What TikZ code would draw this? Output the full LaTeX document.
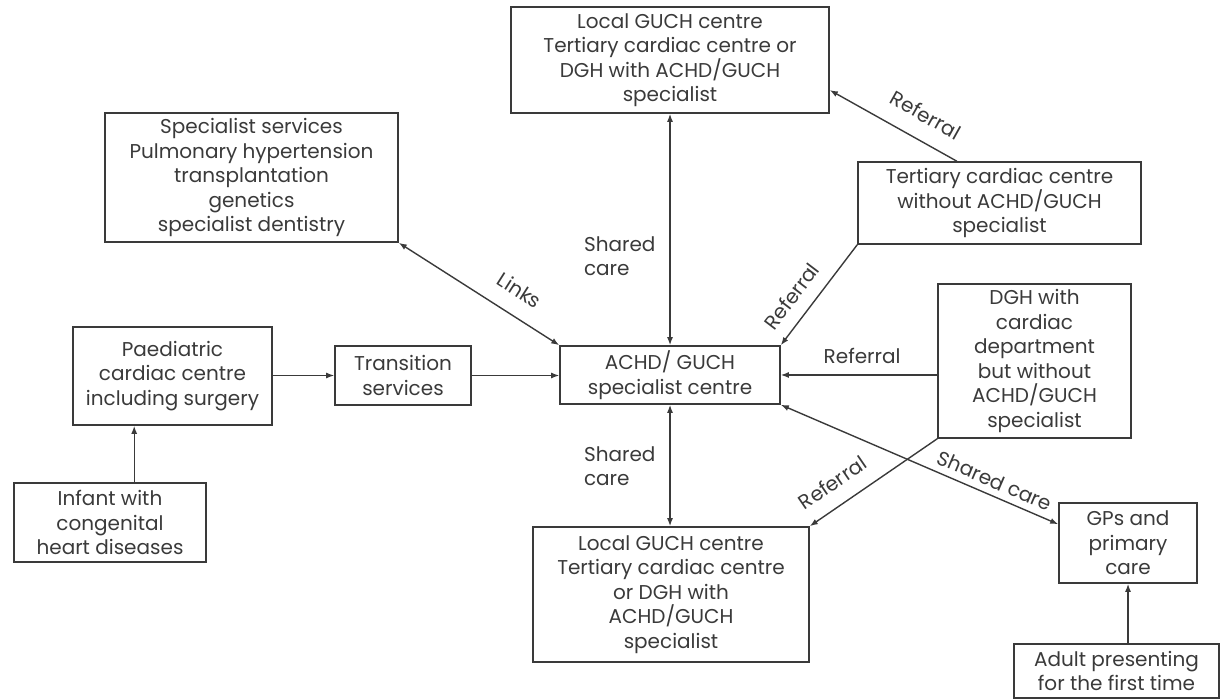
\documentclass[tikz,border=0pt]{standalone}
\usepackage{fontspec}
\setmainfont{Poppins}
\usetikzlibrary{arrows.meta,calc}
\definecolor{guchgrey}{HTML}{3A3A3A}

\begin{document}
\begin{tikzpicture}[x=0.5pt,y=-0.5pt,color=guchgrey,
	font=\fontsize{10}{12.25}\selectfont,
	box/.style={draw=guchgrey,line width=0.8pt,align=center,inner sep=1pt},
	tip/.style={line width=0.7pt,-{Latex[length=4pt,width=3pt]}},
	pit/.style={line width=0.7pt,{Latex[length=4pt,width=3pt]}-},
	tips/.style={line width=0.7pt,{Latex[length=4pt,width=3pt]}-{Latex[length=4pt,width=3pt]}}]
			\useasboundingbox (0,0) rectangle (1220,699);
			\node[box,minimum width=159pt,minimum height=53pt] (toplocal) at (670,60) {Local GUCH centre\\Tertiary cardiac centre or\\DGH with ACHD/GUCH\\specialist};
			\node[box,minimum width=146.5pt,minimum height=64.5pt] (spec) at (251.5,177.5) {Specialist services\\Pulmonary hypertension\\transplantation\\genetics\\specialist dentistry};
			\node[box,minimum width=141.5pt,minimum height=41pt] (tertnone) at (999.5,203) {Tertiary cardiac centre\\without ACHD/GUCH\\specialist};
			\node[box,minimum width=96.5pt,minimum height=77pt] (dghnone) at (1034.5,361) {DGH with\\cardiac\\department\\but without\\ACHD/GUCH\\specialist};
			\node[box,minimum width=110pt,minimum height=29pt] (achd) at (670,375) {ACHD/ GUCH\\specialist centre};
			\node[box,minimum width=68pt,minimum height=29.5pt] (trans) at (403,375.5) {Transition\\services};
			\node[box,minimum width=99.5pt,minimum height=49pt] (paed) at (172.5,376) {Paediatric\\cardiac centre\\including surgery};
			\node[box,minimum width=96pt,minimum height=39.5pt] (infant) at (110,522.5) {Infant with\\congenital\\heart diseases};
			\node[box,minimum width=138pt,minimum height=67.5pt] (botlocal) at (671,594.5) {Local GUCH centre\\Tertiary cardiac centre\\or DGH with\\ACHD/GUCH\\specialist};
			\node[box,minimum width=69pt,minimum height=40pt] (gp) at (1128,543) {GPs and\\primary\\care};
			\node[box,minimum width=102.5pt,minimum height=27pt] (adult) at (1116.5,671) {Adult presenting\\for the first time};
			\coordinate (infanttop) at ($(infant.north west)!0.625!(infant.north east)$);
			\coordinate (tertout) at ($(tertnone.north west)!0.35!(tertnone.north east)$);
			\coordinate (localin) at ($(toplocal.north east)!0.78!(toplocal.south east)$);
			\coordinate (gpin) at ($(gp.north west)!0.27!(gp.south west)$);
			\draw[tips] (achd.north) -- (toplocal.south);
			\draw[tips] (achd.south) -- (achd.south |- botlocal.north);
			\node[align=left,anchor=west] (sharedtop) at (577,256) {Shared\\care};
			\node[align=left,anchor=west] (sharedbot) at (577,466) {Shared\\care};
			\draw[tips] (spec.south east) -- node[pos=0.67,sloped,above=5pt] (links) {Links} (achd.north west);
			\draw[pit] (achd.north east) -- node[pos=0.36,sloped,above=3pt] (reftert) {Referral} (tertnone.south west);
			\draw[pit] (localin) -- node[pos=0.66,sloped,above=5pt] (reflocal) {Referral} (tertout);
			\draw[pit] (achd.east) -- node[pos=0.52,above=2pt] (refdgh) {Referral} (achd.east -| dghnone.west);
			\draw[pit] (botlocal.north east) -- node[pos=0.28,sloped,above=4pt] (refbot) {Referral} (dghnone.south west);
			\draw[tips] (achd.south east) -- node[pos=0.75,sloped,above=0pt] (sharedgp) {Shared care} (gpin);
			\draw[tip] (paed.east |- trans.west) -- (trans.west);
			\draw[tip] (trans.east) -- (trans.east -| achd.west);
			\draw[tip] (infanttop) -- (infanttop |- paed.south);
			\draw[tip] (adult.north -| gp.south) -- (gp.south);
		\end{tikzpicture}
\end{document}
